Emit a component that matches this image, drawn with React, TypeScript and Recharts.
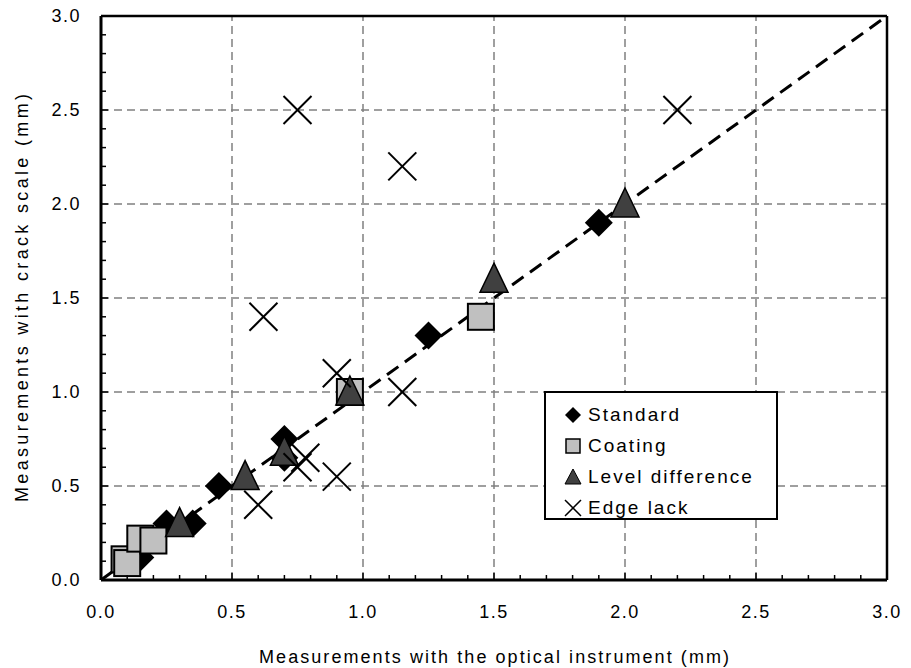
import {
  ScatterChart,
  Scatter,
  XAxis,
  YAxis,
  ReferenceLine,
  Label,
} from 'recharts'

const standardX = [0.15, 0.25, 0.35, 0.45, 0.7, 0.7, 1.25, 1.9]
const standardY = [0.12, 0.3, 0.3, 0.5, 0.75, 0.65, 1.3, 1.9]

const coatingX = [0.09, 0.1, 0.15, 0.2, 0.95, 1.45]
const coatingY = [0.11, 0.09, 0.22, 0.21, 1.0, 1.4]

const levelX = [0.3, 0.55, 0.7, 0.95, 1.5, 2.0]
const levelY = [0.3, 0.55, 0.68, 1.0, 1.6, 2.0]

const edgeX = [0.75, 1.15, 2.2, 0.62, 0.9, 1.15, 0.75, 0.78, 0.9, 0.6]
const edgeY = [2.5, 2.2, 2.5, 1.4, 1.1, 1.0, 0.6, 0.65, 0.55, 0.4]

const majorTicks = [0.5, 1.0, 1.5, 2.0, 2.5]
const axisTicks = Array.from({ length: 31 }, (_, i) => i / 10)

const toPoints = (xs: number[], ys: number[]) => xs.map((x, i) => ({ x, y: ys[i] }))

const standard = toPoints(standardX, standardY)
const coating = toPoints(coatingX, coatingY)
const level = toPoints(levelX, levelY)
const edge = toPoints(edgeX, edgeY)

const FONT = '"Liberation Sans", Arial, sans-serif'

const isMajor = (v: number) => Math.abs(v * 2 - Math.round(v * 2)) < 1e-6

function XTick({ x, y, payload }: any) {
  const v = payload.value
  const major = isMajor(v)
  return (
    <g>
      <line x1={x} x2={x} y1={y} y2={y - (major ? 7 : 5)} stroke="#000" strokeWidth={1.5} />
      {major && (
        <text x={x} y={y + 38} textAnchor="middle" fontSize={18} fontFamily={FONT} letterSpacing={1.5} fill="#000">
          {v.toFixed(1)}
        </text>
      )}
    </g>
  )
}

function YTick({ x, y, payload }: any) {
  const v = payload.value
  const major = isMajor(v)
  return (
    <g>
      <line x1={x} x2={x + (major ? 7 : 5)} y1={y} y2={y} stroke="#000" strokeWidth={1.5} />
      {major && (
        <text x={x - 20} y={y + 6} textAnchor="end" fontSize={18} fontFamily={FONT} letterSpacing={1.5} fill="#000">
          {v.toFixed(1)}
        </text>
      )}
    </g>
  )
}

const Diamond = ({ cx, cy }: any) => (
  <polygon
    points={`${cx},${cy - 14} ${cx + 14},${cy} ${cx},${cy + 14} ${cx - 14},${cy}`}
    fill="#000"
  />
)

const Square = ({ cx, cy }: any) => (
  <rect x={cx - 13} y={cy - 13} width={26} height={26} fill="#c0c0c0" stroke="#000" strokeWidth={2} />
)

const Triangle = ({ cx, cy }: any) => (
  <polygon
    points={`${cx},${cy - 16} ${cx + 14},${cy + 13} ${cx - 14},${cy + 13}`}
    fill="#404040"
    stroke="#000"
    strokeWidth={1.5}
  />
)

const Cross = ({ cx, cy }: any) => (
  <g stroke="#000" strokeWidth={2}>
    <line x1={cx - 14} y1={cy - 14} x2={cx + 14} y2={cy + 14} />
    <line x1={cx - 14} y1={cy + 14} x2={cx + 14} y2={cy - 14} />
  </g>
)

const legendItems = [
  { name: 'Standard', icon: <polygon points="9,1 17,9 9,17 1,9" fill="#000" /> },
  { name: 'Coating', icon: <rect x={2} y={2} width={14} height={14} fill="#c0c0c0" stroke="#000" strokeWidth={1.5} /> },
  { name: 'Level difference', icon: <polygon points="9,1 17,16 1,16" fill="#404040" stroke="#000" strokeWidth={1} /> },
  {
    name: 'Edge lack',
    icon: (
      <g stroke="#000" strokeWidth={1.5}>
        <line x1={1} y1={1} x2={17} y2={17} />
        <line x1={1} y1={17} x2={17} y2={1} />
      </g>
    ),
  },
]

export default function App() {
  return (
    <div style={{ position: 'absolute', left: 0, top: 0, width: 911, height: 668, background: '#fff' }}>
      <ScatterChart width={911} height={668} margin={{ top: 16, right: 24, bottom: 8, left: 11 }}>
        <XAxis
          type="number"
          dataKey="x"
          domain={[0, 3]}
          ticks={axisTicks}
          interval={0}
          tickSize={0}
          tickMargin={0}
          tick={<XTick />}
          height={80}
          axisLine={{ stroke: '#000', strokeWidth: 3 }}
          allowDataOverflow
        >
          <Label
            content={({ viewBox }: any) => (
              <text
                x={viewBox.x + viewBox.width / 2}
                y={viewBox.y + 83}
                textAnchor="middle"
                fontSize={18}
                fontFamily={FONT}
                textLength={470}
                lengthAdjust="spacing"
              >
                Measurements with the optical instrument (mm)
              </text>
            )}
          />
        </XAxis>
        <YAxis
          type="number"
          dataKey="y"
          domain={[0, 3]}
          ticks={axisTicks}
          interval={0}
          tickSize={0}
          tickMargin={0}
          tick={<YTick />}
          width={90}
          axisLine={{ stroke: '#000', strokeWidth: 3 }}
          allowDataOverflow
        >
          <Label
            content={({ viewBox }: any) => {
              const cx = viewBox.x + 11
              const cy = viewBox.y + viewBox.height / 2
              return (
                <text
                  x={cx}
                  y={cy}
                  transform={`rotate(-90 ${cx} ${cy})`}
                  textAnchor="middle"
                  dominantBaseline="central"
                  fontSize={18}
                  fontFamily={FONT}
                  textLength={408}
                  lengthAdjust="spacing"
                >
                  Measurements with crack scale (mm)
                </text>
              )
            }}
          />
        </YAxis>

        {majorTicks.map(v => (
          <ReferenceLine key={`h${v}`} y={v} stroke="#808080" strokeWidth={1.5} strokeDasharray="8 5" />
        ))}
        {majorTicks.map(v => (
          <ReferenceLine key={`v${v}`} x={v} stroke="#808080" strokeWidth={1.5} strokeDasharray="8 5" />
        ))}
        <ReferenceLine y={3} stroke="#000" strokeWidth={2.5} />
        <ReferenceLine x={3} stroke="#000" strokeWidth={2.5} />
        <ReferenceLine
          segment={[{ x: 0, y: 0 }, { x: 3, y: 3 }]}
          stroke="#000"
          strokeWidth={3}
          strokeDasharray="14 8"
        />

        <Scatter name="Standard" data={standard} shape={<Diamond />} isAnimationActive={false} />
        <Scatter name="Coating" data={coating} shape={<Square />} isAnimationActive={false} />
        <Scatter name="Level difference" data={level} shape={<Triangle />} isAnimationActive={false} />
        <Scatter name="Edge lack" data={edge} shape={<Cross />} isAnimationActive={false} />
      </ScatterChart>

      <div
        style={{
          position: 'absolute',
          left: 544,
          top: 391,
          width: 234,
          height: 129,
          border: '2px solid #000',
          background: '#fff',
          boxSizing: 'border-box',
          padding: '6px 0 0 18px',
          fontFamily: FONT,
          fontSize: 19,
          letterSpacing: 2,
        }}
      >
        {legendItems.map(item => (
          <div key={item.name} style={{ display: 'flex', alignItems: 'center', height: 31 }}>
            <svg width={18} height={18} style={{ marginRight: 6 }}>
              {item.icon}
            </svg>
            <span>{item.name}</span>
          </div>
        ))}
      </div>
    </div>
  )
}
